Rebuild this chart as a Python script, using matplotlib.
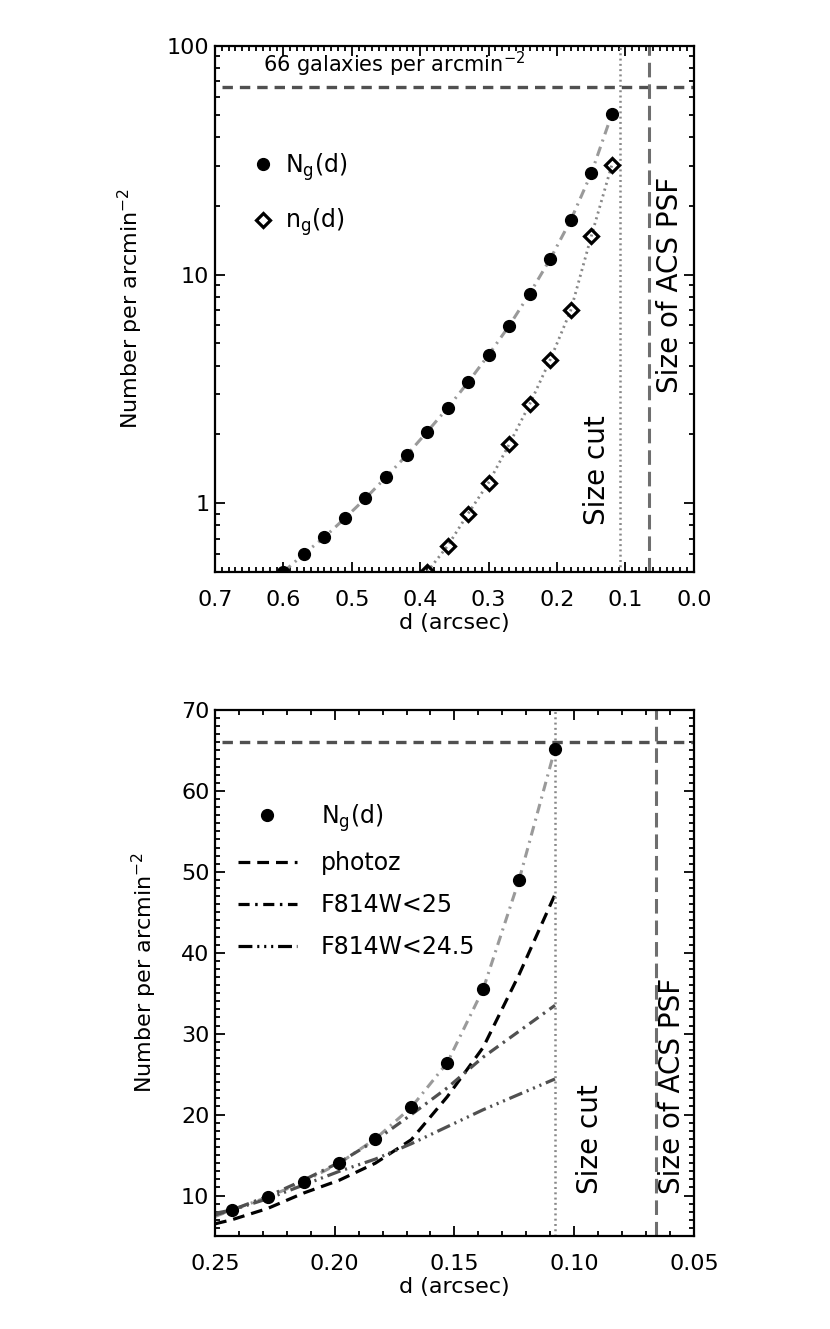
import numpy as np
import matplotlib
matplotlib.use("Agg")
import matplotlib.pyplot as plt
from matplotlib.lines import Line2D
from matplotlib.ticker import (MultipleLocator, LogLocator, NullFormatter, FixedLocator,
                               FixedFormatter, FormatStrFormatter)

plt.rcParams["font.family"] = ["DejaVu Sans"]
plt.rcParams["mathtext.fontset"] = "dejavusans"
plt.rcParams["lines.scale_dashes"] = False

# top panel: counts vs size (log)
d_top = [0.60, 0.57, 0.54, 0.51, 0.48, 0.45, 0.42, 0.39, 0.36, 0.33,
         0.30, 0.27, 0.24, 0.21, 0.18, 0.15, 0.12]
Ng_top = [0.50, 0.60, 0.71, 0.86, 1.05, 1.30, 1.62, 2.05, 2.61, 3.38,
          4.46, 5.97, 8.26, 11.7, 17.3, 27.7, 50.2]
d_ng = [0.39, 0.36, 0.33, 0.30, 0.27, 0.24, 0.21, 0.18, 0.15, 0.12]
ng_top = [0.50, 0.65, 0.90, 1.23, 1.81, 2.71, 4.24, 6.97, 14.7, 30.1]

# bottom panel: linear, zoom on small sizes
d_bot = [0.243, 0.228, 0.213, 0.198, 0.183, 0.168, 0.153, 0.138, 0.123, 0.108]
Ng_bot = [8.2, 9.8, 11.7, 14.0, 17.0, 20.9, 26.4, 35.5, 49.0, 65.2]
d_curve = [0.25, 0.243, 0.228, 0.213, 0.198, 0.183, 0.168, 0.153, 0.138, 0.123, 0.108]
Ng_line = [7.4, 8.2, 9.8, 11.7, 14.0, 17.0, 20.9, 26.4, 35.5, 49.0, 65.2]
photoz = [6.5, 7.0, 8.4, 10.3, 11.9, 14.0, 16.9, 22.2, 28.3, 37.3, 47.2]
f814_25 = [7.6, 8.2, 9.9, 11.9, 14.1, 16.8, 20.0, 23.3, 27.1, 30.3, 33.5]
f814_245 = [7.8, 8.2, 9.6, 11.3, 13.0, 14.5, 16.4, 18.5, 20.6, 22.5, 24.4]

n_limit = 66.0
size_cut = 0.108
psf_size = 0.066

FS = 16      # tick / axis labels
FS_ANN = 20  # rotated annotations
FS_LEG = 17
ylab = r"Number per arcmin$^{-2}$"
lab_Ng = r"N$_{\rm g}$(d)"
lab_ng = r"n$_{\rm g}$(d)"

light = "#9a9a9a"
mid = "#888888"
dark = "#505050"
psf_c = "#6e6e6e"

DASHDOT = (8, 4, 1.8, 4)
DASH3DOT = (10, 3.5, 1.5, 3.5, 1.5, 3.5, 1.5, 3.5)


def style_axis(ax):
    ax.tick_params(which="both", direction="in", top=True, right=True,
                   width=1.3, labelsize=FS)
    ax.tick_params(axis="x", pad=13)
    ax.tick_params(axis="y", pad=4)
    ax.tick_params(which="major", length=7.5)
    ax.tick_params(which="minor", length=3.8)
    for s in ax.spines.values():
        s.set_linewidth(1.6)


fig = plt.figure(figsize=(8.3, 13.29), dpi=100)

# ---------------- top panel
ax1 = fig.add_axes([0.259, 0.5696, 0.577, 0.3958])
ax1.set_yscale("log")
ax1.set_xlim(0.7, 0.0)
ax1.set_ylim(0.5, 100)

ax1.plot(d_top, Ng_top, color=light, lw=2.2, dashes=(7, 4, 1.5, 4), zorder=2)
ax1.plot(d_ng, ng_top, color=mid, lw=2.0, dashes=(1.5, 2.8), zorder=2)
ax1.plot(d_top, Ng_top, "o", color="black", ms=8.5, zorder=3)
ax1.plot(d_ng, ng_top, "D", mfc="none", mec="black", mew=2.3, ms=7.5, zorder=3)

ax1.axhline(n_limit, xmin=0.015, color=dark, lw=2.4, dashes=(7.5, 5))
ax1.axvline(size_cut, color=mid, lw=1.8, dashes=(1.4, 2.4))
ax1.axvline(psf_size, color=psf_c, lw=2.2, dashes=(10.5, 5))

ax1.text(0.63, 72, r"66 galaxies per arcmin$^{-2}$", fontsize=FS - 1, ha="left", va="bottom")
ax1.text(0.142, 0.80, "Size cut", rotation=90, fontsize=FS_ANN, ha="center", va="bottom")
ax1.text(0.035, 3.04, "Size of ACS PSF", rotation=90, fontsize=FS_ANN, ha="center", va="bottom")

ax1.xaxis.set_major_locator(MultipleLocator(0.1))
ax1.xaxis.set_minor_locator(MultipleLocator(0.01))
ax1.xaxis.set_major_formatter(FormatStrFormatter("%.1f"))
ax1.yaxis.set_major_locator(FixedLocator([1, 10, 100]))
ax1.yaxis.set_major_formatter(FixedFormatter(["1", "10", "100"]))
ax1.yaxis.set_minor_locator(LogLocator(base=10, subs=np.arange(2, 10)))
ax1.yaxis.set_minor_formatter(NullFormatter())
style_axis(ax1)
ax1.set_xlabel("d (arcsec)", fontsize=FS, labelpad=2)
ax1.set_ylabel(ylab, fontsize=FS, labelpad=16)

h_top = [Line2D([], [], ls="none", marker="o", color="black", ms=8.5),
         Line2D([], [], ls="none", marker="D", mfc="none", mec="black", mew=2.3, ms=7.5)]
ax1.legend(h_top, [lab_Ng, lab_ng], loc="upper left", bbox_to_anchor=(0.075, 0.80),
           frameon=False, fontsize=FS_LEG, handlelength=1.0, handletextpad=0.45,
           labelspacing=1.0, borderpad=0, borderaxespad=0)

# ---------------- bottom panel
ax2 = fig.add_axes([0.259, 0.0700, 0.577, 0.3958])
ax2.set_xlim(0.25, 0.05)
ax2.set_ylim(5, 70)

ax2.plot(d_curve, Ng_line, color=light, lw=2.2, dashes=(7, 4, 1.5, 4), zorder=2)
ax2.plot(d_curve, photoz, color="black", lw=2.3, dashes=(8.5, 5), zorder=2)
ax2.plot(d_curve, f814_25, color=dark, lw=2.3, dashes=DASHDOT, zorder=2)
ax2.plot(d_curve, f814_245, color=dark, lw=2.3, dashes=DASH3DOT, zorder=2)
ax2.plot(d_bot, Ng_bot, "o", color="black", ms=8.5, zorder=3)

ax2.axhline(n_limit, xmin=0.015, color=dark, lw=2.4, dashes=(7.5, 5))
ax2.axvline(size_cut, color=mid, lw=1.8, dashes=(1.4, 2.4))
ax2.axvline(psf_size, color=psf_c, lw=2.2, dashes=(10.5, 5))

ax2.text(0.0934, 10.2, "Size cut", rotation=90, fontsize=FS_ANN, ha="center", va="bottom")
ax2.text(0.059, 10.2, "Size of ACS PSF", rotation=90, fontsize=FS_ANN, ha="center", va="bottom")

ax2.xaxis.set_major_locator(MultipleLocator(0.05))
ax2.xaxis.set_minor_locator(MultipleLocator(0.01))
ax2.xaxis.set_major_formatter(FormatStrFormatter("%.2f"))
ax2.yaxis.set_major_locator(MultipleLocator(10))
ax2.yaxis.set_minor_locator(MultipleLocator(1))
style_axis(ax2)
ax2.set_xlabel("d (arcsec)", fontsize=FS, labelpad=2)
ax2.set_ylabel(ylab, fontsize=FS, labelpad=16)

h_bot = [Line2D([], [], ls="none", marker="o", color="black", ms=8.5),
         Line2D([], [], color="black", lw=2.3, dashes=(8.5, 5)),
         Line2D([], [], color="black", lw=2.3, dashes=DASHDOT),
         Line2D([], [], color="black", lw=2.3, dashes=DASH3DOT)]
ax2.legend(h_bot, [lab_Ng, "photoz", "F814W<25", "F814W<24.5"], loc="upper left",
           bbox_to_anchor=(0.048, 0.825), frameon=False, fontsize=FS_LEG,
           handlelength=2.5, handletextpad=1.0, labelspacing=0.75,
           borderpad=0, borderaxespad=0)

fig.savefig("out.png", dpi=100)
